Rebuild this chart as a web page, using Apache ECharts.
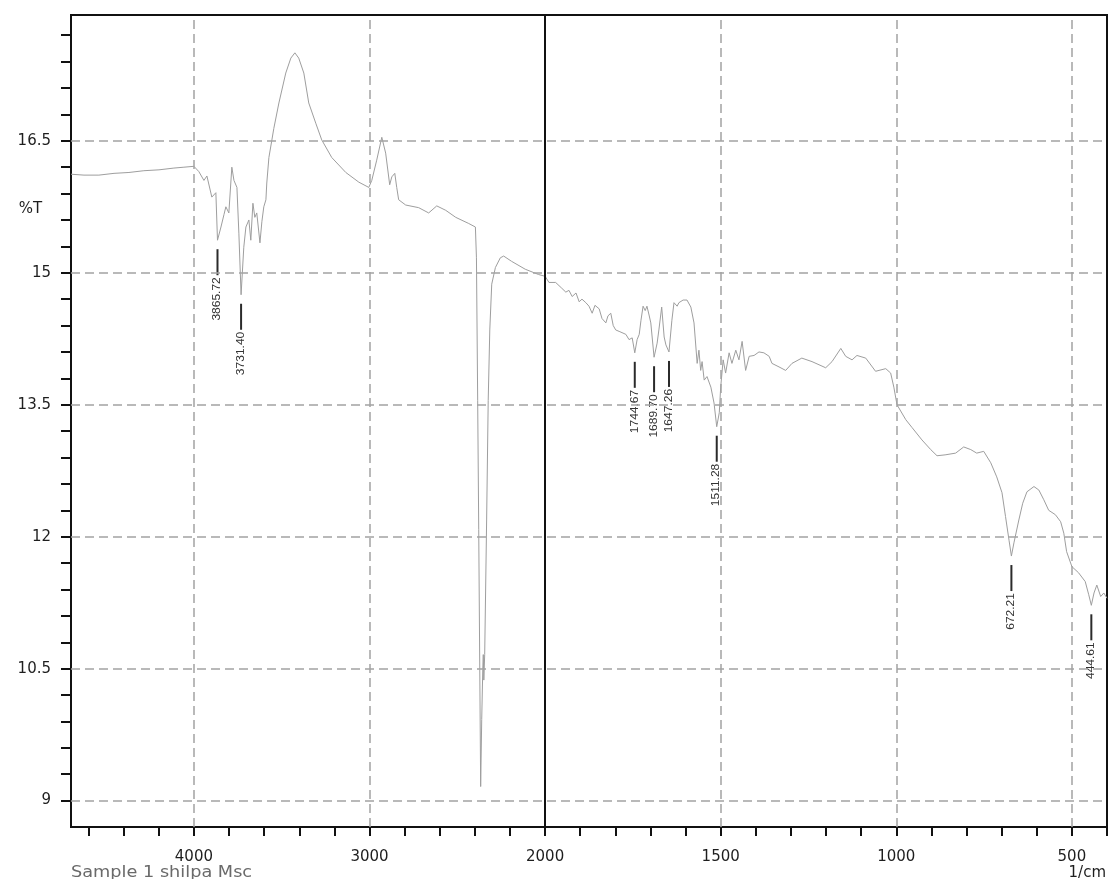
<!DOCTYPE html>
<html>
<head>
<meta charset="utf-8">
<title>IR spectrum</title>
<script src="https://cdn.jsdelivr.net/npm/echarts@6/dist/echarts.min.js"></script>
<style>
  html, body { margin: 0; padding: 0; background: #ffffff; }
  #chart { width: 1109px; height: 879px; }
</style>
</head>
<body>
<div id="chart"></div>
<script>
// Spectrum: wavenumber (1/cm) and transmittance (%T)
const wavenumbers = [
  4700, 4626, 4541, 4455, 4370, 4285, 4199, 4114, 4057, 4000,
  3972, 3943, 3926, 3915, 3898, 3875, 3865.72, 3846, 3829, 3818,
  3801, 3784, 3772, 3755, 3744, 3731.40, 3716, 3704, 3687, 3676,
  3664, 3653, 3642, 3624, 3613, 3602, 3590, 3585, 3573, 3556,
  3545, 3516, 3477, 3448, 3425, 3403, 3374, 3346, 3306, 3272,
  3215, 3135, 3061, 3004, 2987, 2959, 2930, 2908, 2885, 2873,
  2856, 2845, 2834, 2794, 2720, 2663, 2617, 2566, 2509, 2435,
  2397, 2391, 2384, 2378, 2372, 2367, 2361, 2355, 2352, 2349,
  2344, 2333, 2324, 2315, 2304, 2283, 2255, 2236, 2191, 2113,
  2037, 2000,
  1989, 1970, 1954, 1941, 1932, 1923, 1912, 1903, 1895, 1884,
  1875, 1866, 1858, 1846, 1838, 1827, 1821, 1813, 1806, 1799,
  1787, 1770, 1761, 1752, 1744.67, 1738, 1732, 1727, 1721, 1715,
  1710, 1704, 1699, 1689.70, 1681, 1676, 1668, 1661, 1656, 1647.26,
  1639, 1633, 1624, 1619, 1607, 1596, 1585, 1576, 1567, 1562,
  1557, 1553, 1547, 1539, 1528, 1519, 1511.28, 1504, 1500, 1493,
  1486, 1476, 1468, 1457, 1448, 1439, 1429, 1419, 1405, 1391,
  1377, 1362, 1354, 1334, 1315, 1297, 1269, 1240, 1201, 1183,
  1158, 1144, 1126, 1112, 1087, 1059, 1030, 1016, 1007, 998,
  973, 955, 927, 902, 884, 861, 831, 808, 788, 771,
  751, 731, 714, 699, 689, 679, 672.21, 665, 651, 640,
  628, 608, 594, 580, 566, 547, 532, 523, 515, 500,
  481, 462, 452, 444.61, 437, 429, 418, 409, 400
];
const transmittance = [
  16.12, 16.11, 16.11, 16.13, 16.14, 16.16, 16.17, 16.19, 16.20, 16.21,
  16.15, 16.05, 16.10, 16.08, 15.86, 15.91, 15.37, 15.52, 15.66, 15.75,
  15.68, 16.20, 16.05, 15.97, 15.45, 14.75, 15.29, 15.52, 15.60, 15.37,
  15.79, 15.63, 15.68, 15.34, 15.58, 15.75, 15.83, 16.02, 16.31, 16.51,
  16.64, 16.93, 17.27, 17.44, 17.50, 17.44, 17.27, 16.93, 16.70, 16.51,
  16.31, 16.14, 16.03, 15.97, 16.05, 16.28, 16.54, 16.36, 16.00, 16.09,
  16.13, 15.97, 15.83, 15.77, 15.74, 15.68, 15.76, 15.71, 15.63, 15.56,
  15.52, 15.17, 13.55, 12.08, 10.49, 9.16, 9.92, 10.49, 10.66, 10.37,
  10.66, 12.19, 13.55, 14.35, 14.87, 15.06, 15.17, 15.19, 15.13, 15.04,
  14.98, 14.96,
  14.89, 14.89, 14.83, 14.78, 14.80, 14.73, 14.77, 14.67, 14.70, 14.66,
  14.62, 14.54, 14.63, 14.59, 14.48, 14.43, 14.51, 14.54, 14.40, 14.35,
  14.33, 14.30, 14.24, 14.26, 14.09, 14.24, 14.30, 14.46, 14.62, 14.57,
  14.62, 14.52, 14.43, 14.04, 14.20, 14.35, 14.61, 14.27, 14.18, 14.10,
  14.46, 14.66, 14.62, 14.66, 14.69, 14.69, 14.61, 14.43, 13.97, 14.12,
  13.89, 13.99, 13.78, 13.82, 13.70, 13.52, 13.25, 13.41, 13.70, 14.01,
  13.86, 14.09, 13.97, 14.12, 14.01, 14.22, 13.89, 14.05, 14.06, 14.10,
  14.09, 14.05, 13.97, 13.93, 13.89, 13.97, 14.03, 13.99, 13.92, 13.99,
  14.14, 14.05, 14.01, 14.06, 14.03, 13.88, 13.91, 13.86, 13.70, 13.50,
  13.33, 13.24, 13.10, 12.99, 12.92, 12.93, 12.95, 13.02, 12.99, 12.95,
  12.97, 12.84, 12.68, 12.50, 12.23, 11.96, 11.78, 11.93, 12.19, 12.38,
  12.51, 12.57, 12.53, 12.42, 12.30, 12.25, 12.17, 12.04, 11.83, 11.66,
  11.59, 11.49, 11.34, 11.22, 11.36, 11.45, 11.32, 11.36, 11.30
];

// Picked peaks (1/cm)
const peakWavenumbers = [3865.72, 3731.40, 1744.67, 1689.70, 1647.26, 1511.28, 672.21, 444.61];

// Axis labels
const xTickLabels = [4000, 3000, 2000, 1500, 1000, 500];
const yTickLabels = [9, 10.5, 12, 13.5, 15, 16.5];
const xGridLines = [4000, 3000, 1500, 1000, 500];
const xSplitAt = 2000;

// Split wavenumber scale: 4700-2000 is drawn at half the density of 2000-400
const X_START = 4700, X_END = 400;
const LEFT_SPAN = (X_START - xSplitAt) / 2;
function toAxis(w) {
  return w >= xSplitAt ? (X_START - w) / 2 : LEFT_SPAN + (xSplitAt - w);
}
function fromAxis(u) {
  return u <= LEFT_SPAN ? X_START - 2 * u : xSplitAt - (u - LEFT_SPAN);
}

// Minor tick marks: every 200 above 2000, every 100 below
const xTicks = [];
for (let w = 4600; w >= 2000; w -= 200) xTicks.push(toAxis(w));
for (let w = 1900; w >= X_END; w -= 100) xTicks.push(toAxis(w));
const yTicks = [];
for (let k = 0; k <= 29; k++) yTicks.push(Math.round((9 + 0.3 * k) * 10) / 10);

const spectrum = wavenumbers.map((w, i) => [toAxis(w), transmittance[i]]);
const peaks = peakWavenumbers.map(w => [toAxis(w), transmittance[wavenumbers.indexOf(w)], w]);

const dashed = { color: '#a2a2a2', width: 1.5, type: [9, 5] };
const gridLines = []
  .concat(yTickLabels.map(v => ({ yAxis: v, lineStyle: dashed })))
  .concat(xGridLines.map(w => ({ xAxis: toAxis(w), lineStyle: dashed })))
  .concat([{ xAxis: toAxis(xSplitAt), lineStyle: { color: '#111', width: 2, type: 'solid' } }]);

const labelFont = { fontFamily: 'DejaVu Sans', fontSize: 15, color: '#1e1e1e' };

const chart = echarts.init(document.getElementById('chart'), null, { renderer: 'canvas' });
chart.setOption({
  animation: false,
  backgroundColor: '#ffffff',
  grid: {
    left: 71, right: 2, top: 15, bottom: 52,
    containLabel: false, outerBoundsMode: 'none',
    show: true, borderColor: '#111', borderWidth: 2, backgroundColor: 'transparent'
  },
  xAxis: {
    type: 'value',
    min: 0,
    max: toAxis(X_END),
    axisLine: { show: true, onZero: false, lineStyle: { color: '#111', width: 2 } },
    axisTick: { show: true, inside: false, length: 9, customValues: xTicks, lineStyle: { color: '#111', width: 2 } },
    axisLabel: Object.assign({
      show: true, margin: 23,
      customValues: xTickLabels.map(toAxis),
      formatter: v => String(Math.round(fromAxis(v)))
    }, labelFont),
    splitLine: { show: false }
  },
  yAxis: {
    type: 'value',
    min: 8.7,
    max: 17.93,
    axisLine: { show: true, onZero: false, lineStyle: { color: '#111', width: 2 } },
    axisTick: { show: true, inside: false, length: 10, customValues: yTicks, lineStyle: { color: '#111', width: 2 } },
    axisLabel: Object.assign({
      show: true, margin: 20,
      customValues: yTickLabels,
      formatter: v => String(v)
    }, labelFont),
    splitLine: { show: false }
  },
  graphic: [
    { type: 'text', x: 30.5, y: 209, style: { text: '%T', font: '15px "DejaVu Sans"', fill: '#1e1e1e', align: 'center', verticalAlign: 'middle' } },
    { type: 'text', x: 71, y: 873, scaleX: 1.18, style: { text: 'Sample 1 shilpa Msc', font: '15px "DejaVu Sans"', fill: '#6a6a6a', align: 'left', verticalAlign: 'middle' } },
    { type: 'text', x: 1106, y: 873, style: { text: '1/cm', font: '15px "DejaVu Sans"', fill: '#1e1e1e', align: 'right', verticalAlign: 'middle' } }
  ],
  series: [
    {
      name: 'grid',
      type: 'line',
      data: [],
      z: 1,
      silent: true,
      markLine: {
        silent: true,
        symbol: ['none', 'none'],
        label: { show: false },
        emphasis: { disabled: true },
        animation: false,
        data: gridLines
      }
    },
    {
      name: '%T',
      type: 'line',
      data: spectrum,
      z: 3,
      silent: true,
      showSymbol: false,
      symbol: 'none',
      lineStyle: { color: '#9e9e9e', width: 1 }
    },
    {
      name: 'peaks',
      type: 'custom',
      data: peaks,
      z: 4,
      silent: true,
      clip: false,
      renderItem: function (params, api) {
        const p = api.coord([api.value(0), api.value(1)]);
        const top = p[1] + 9;
        const bottom = top + 26;
        return {
          type: 'group',
          children: [
            { type: 'line', shape: { x1: p[0], y1: top, x2: p[0], y2: bottom }, style: { stroke: '#2b2b2b', lineWidth: 2 } },
            {
              type: 'text', x: p[0], y: bottom + 2, rotation: Math.PI / 2, scaleX: 1.2,
              style: { text: api.value(2).toFixed(2), font: '10px "Liberation Sans"', fill: '#333', align: 'right', verticalAlign: 'middle' }
            }
          ]
        };
      }
    }
  ]
});
</script>
</body>
</html>
